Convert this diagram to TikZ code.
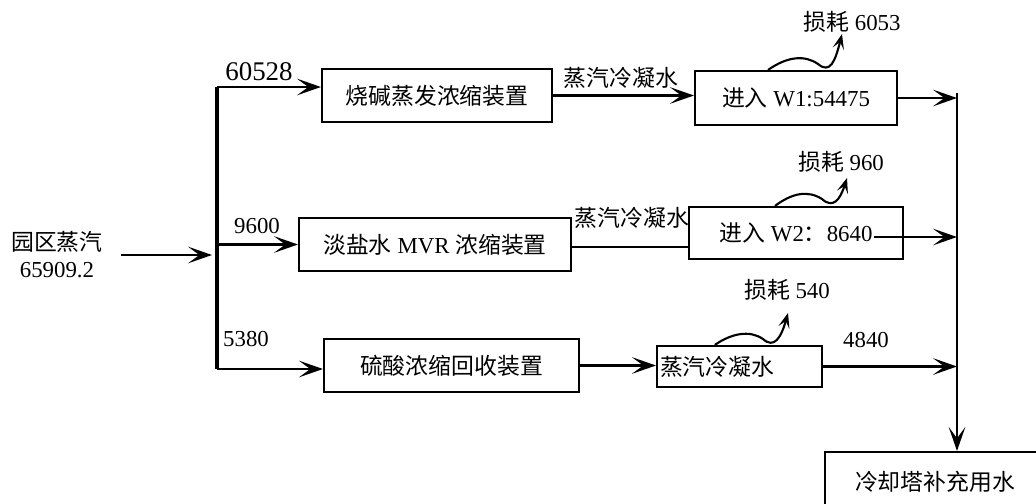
\documentclass[tikz,border=0pt]{standalone}
\usepackage{fontspec}
\setmainfont{Liberation Serif}
\newfontfamily\cjk{Noto Sans CJK SC}
\newcommand{\zh}[1]{{\cjk #1}}
\usetikzlibrary{arrows.meta,positioning}

\begin{document}
\begin{tikzpicture}[x=0.03cm,y=-0.03cm,line width=1.8pt,
            font=\fontsize{19.5}{23}\selectfont,
            flow/.style={-{Stealth[length=0.72cm,width=0.5cm,inset=0.34cm]}},
            lossflow/.style={-{Stealth[length=0.45cm,width=0.34cm,inset=0.2cm]}},
            unit/.style={draw,minimum height=1.59cm,inner sep=0pt}]
            \useasboundingbox (0,0) rectangle (1036,504);
            \node[align=center] (src) at (57,255) {\zh{园区蒸汽}\\65909.2};
            \coordinate (bustop) at (217,87);
            \coordinate (busbot) at (217,369);
            \coordinate (riser) at (957,93);
            \node[unit,minimum width=6.9cm] (dev1) at (437,95.5) {\zh{烧碱蒸发浓缩装置}};
            \node[unit,minimum width=8.16cm] (dev2) at (435,244.5) {\zh{淡盐水} MVR \zh{浓缩装置}};
            \node[unit,minimum width=7.65cm] (dev3) at (451.5,365.5) {\zh{硫酸浓缩回收装置}};
            \node[unit,minimum width=6.06cm,minimum height=1.62cm] (w1) at (796,98) {\zh{进入} W1:54475};
            \node[unit,minimum width=6.42cm,minimum height=1.56cm] (w2) at (796,233) {\zh{进入} W2\zh{：}8640};
            \node[unit,minimum height=1.23cm,text width=4.77cm,inner xsep=0.09cm,align=left] (w3) at (739.5,366.5) {\zh{蒸汽冷凝水}};
            \node[unit,minimum width=6.6cm,minimum height=1.8cm] (tower) at (935,482) {\zh{冷却塔补充用水}};
            \node[font=\fontsize{23}{26}\selectfont] (f1) at (259,72) {60528};
            \node (f2) at (257,226) {9600};
            \node (f3) at (246,339) {5380};
            \node (c1) at (621,78) {\zh{蒸汽冷凝水}};
            \node (c2) at (632,218) {\zh{蒸汽冷凝水}};
            \node (c3) at (866,340) {4840};
            \node (l1) at (852,22) {\zh{损耗} 6053};
            \node (l2) at (841,162) {\zh{损耗} 960};
            \node (l3) at (787,290) {\zh{损耗} 540};
            \coordinate (loss1) at (842,34);
            \coordinate (loss2) at (847,178);
            \coordinate (loss3) at (788,313);
            % steam in and split
            \draw[line width=2.6pt] (bustop) -- (busbot);
            \draw[flow,shorten <=0.4cm,shorten >=0.15cm] (src) -- (src -| bustop);
            \draw[flow] (bustop) -- (bustop -| dev1.west);
            \draw[flow] (dev2.west -| bustop) -- (dev2.west);
            \draw[flow] (busbot) -- (busbot -| dev3.west);
            % condensate
            \draw[flow] (dev1.east) -- (dev1.east -| w1.west);
            \draw ([yshift=-0.08cm]dev2.east) -- ([yshift=-0.08cm]dev2.east -| w2.west);
            \draw[flow] (dev3.east) -- (dev3.east -| w3.west);
            \draw[flow] (w1.east) -- (w1.east -| riser);
            \draw[flow] ([xshift=-0.9cm,yshift=-0.12cm]w2.east) coordinate (w2out) -- (w2out -| riser);
            \draw[flow] (w3.east) -- (w3.east -| riser);
            \draw[flow] (riser) -- (riser |- tower.north);
            % losses
            \draw[lossflow] ([xshift=-0.84cm]w1.north) .. controls (788,56) and (805,55) .. (818,64)
                .. controls (830,74) and (835,62) .. (loss1);
            \draw[lossflow] ([xshift=-0.63cm]w2.north) .. controls (792,193) and (808,190) .. (822,199)
                .. controls (833,209) and (840,200) .. (loss2);
            \draw[lossflow] ([xshift=-0.74cm]w3.north) .. controls (732,333) and (750,330) .. (763,339)
                .. controls (774,349) and (781,338) .. (loss3);
\end{tikzpicture}
\end{document}
